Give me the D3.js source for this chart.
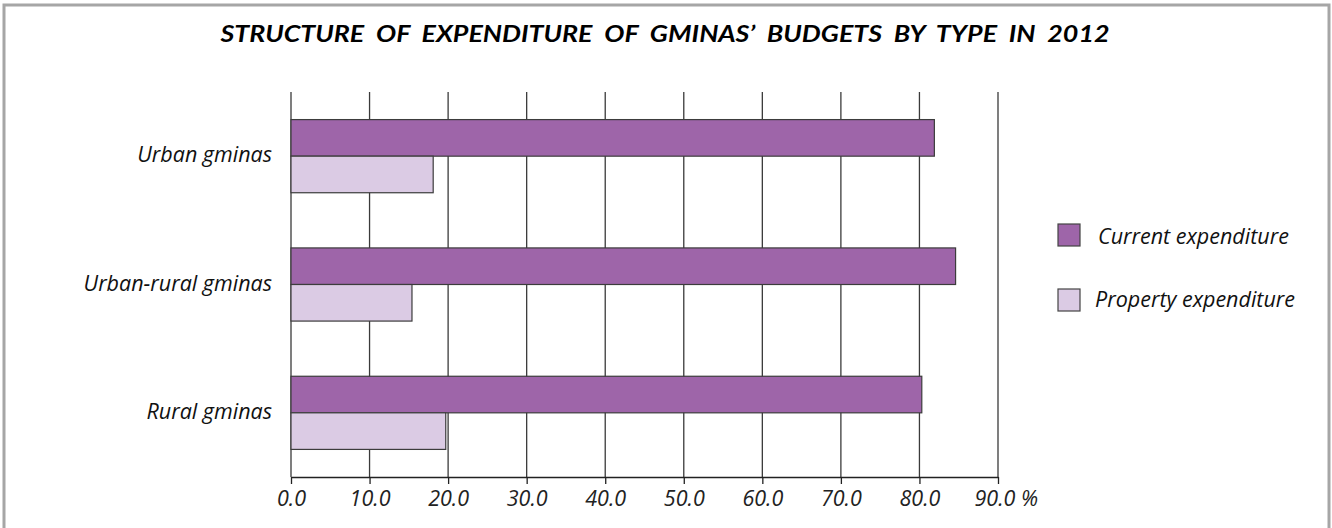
<!DOCTYPE html>
<html><head><meta charset="utf-8">
<script src="https://cdn.jsdelivr.net/npm/d3@7"></script>
<style>body{margin:0;background:#fff}svg{display:block}</style>
</head><body>
<svg id="c" width="1332" height="528"></svg>
<script>
const categories = ["Urban gminas", "Urban-rural gminas", "Rural gminas"];
const seriesNames = ["Current expenditure", "Property expenditure"];
const currentValues = [81.9, 84.6, 80.3];
const propertyValues = [18.1, 15.4, 19.7];
const tickValues = [0, 10, 20, 30, 40, 50, 60, 70, 80, 90];
const tickLabels = ["0.0", "10.0", "20.0", "30.0", "40.0", "50.0", "60.0", "70.0", "80.0", "90.0 %"];
const titleText = "STRUCTURE  OF  EXPENDITURE  OF  GMINAS\u2019  BUDGETS  BY  TYPE  IN  2012";

const colors = ["#9e65a9", "#dbcbe4"];
const svg = d3.select("#c");

// border
svg.append("rect").attr("x", 4).attr("y", 5).attr("width", 1325).attr("height", 540)
  .attr("fill", "none").attr("stroke", "#a6a6a6").attr("stroke-width", 3);

// title
svg.append("text").attr("x", 665).attr("y", 42).attr("text-anchor", "middle")
  .attr("font-family", "Lato").attr("font-weight", "bold").attr("font-style", "italic")
  .attr("font-size", 22).attr("fill", "#000")
  .attr("textLength", 889).attr("lengthAdjust", "spacingAndGlyphs")
  .style("white-space", "pre").text(titleText);

const x = d3.scaleLinear().domain([0, 90]).range([291, 998]);
const y = d3.scaleBand().domain(categories).range([92, 477]).paddingInner(0.43).paddingOuter(0.215);
const ySub = d3.scaleBand().domain(seriesNames).range([0, y.bandwidth()]);

// gridlines
svg.append("g").selectAll("line").data(tickValues).join("line")
  .attr("x1", d => x(d)).attr("x2", d => x(d)).attr("y1", 92).attr("y2", 477)
  .attr("stroke", "#3a3a3a").attr("stroke-width", 1.3);

// bars
const data = categories.map((c, i) => ({cat: c, vals: [currentValues[i], propertyValues[i]]}));
const g = svg.append("g");
data.forEach(d => {
  d.vals.forEach((v, j) => {
    g.append("rect")
      .attr("x", x(0)).attr("y", y(d.cat) + ySub(seriesNames[j]))
      .attr("width", x(v) - x(0)).attr("height", ySub.bandwidth())
      .attr("fill", colors[j]).attr("stroke", "#3c3c3c").attr("stroke-width", 1.2);
  });
});

// x axis
const xAxis = d3.axisBottom(x).tickValues(tickValues).tickSize(7).tickSizeOuter(0)
  .tickFormat((d, i) => tickLabels[i]);
const ax = svg.append("g").attr("transform", "translate(0,477)").call(xAxis);
ax.select(".domain").attr("stroke", "#222").attr("stroke-width", 1.3);
ax.selectAll(".tick line").attr("stroke", "#222").attr("stroke-width", 1.3);
ax.selectAll(".tick text").attr("font-family", "Open Sans").attr("font-style", "italic")
  .attr("font-size", 21.5).attr("fill", "#222").attr("dy", 0).attr("y", 29);
ax.selectAll(".tick text").filter((d, i) => i === tickLabels.length - 1)
  .attr("text-anchor", "start").attr("dx", -24);

// category labels
svg.append("g").selectAll("text").data(categories).join("text")
  .attr("x", 272).attr("y", d => y(d) + ySub.bandwidth() + 6)
  .attr("text-anchor", "end").attr("font-family", "Open Sans").attr("font-style", "italic")
  .attr("font-size", 21.5).attr("fill", "#111").text(d => d);

// legend
const lg = svg.append("g");
seriesNames.forEach((s, i) => {
  const yy = 224 + i * 65;
  lg.append("rect").attr("x", 1058).attr("y", yy).attr("width", 22).attr("height", 22)
    .attr("fill", colors[i]).attr("stroke", "#444").attr("stroke-width", 1.2);
  lg.append("text").attr("x", i === 0 ? 1098 : 1095).attr("y", yy + 20 - i * 2)
    .attr("font-family", "Open Sans").attr("font-style", "italic").attr("font-size", 21.5)
    .attr("fill", "#111").text(s);
});
</script>
</body></html>
